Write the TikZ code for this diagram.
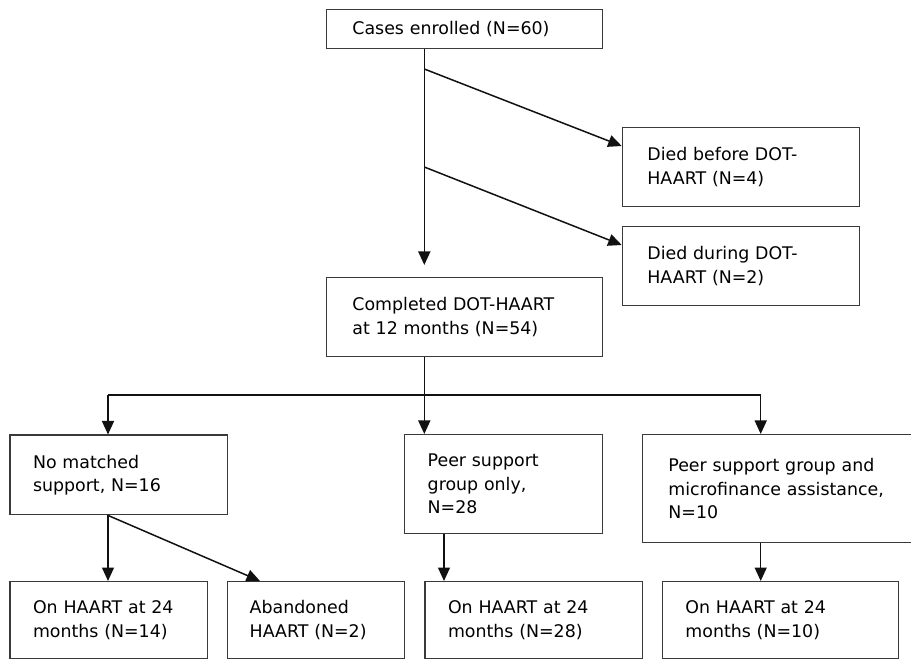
\documentclass[tikz,border=0pt]{standalone}
\usepackage{fontspec}
\setmainfont{DejaVu Sans}
\usetikzlibrary{arrows.meta}
\definecolor{boxgray}{HTML}{3A3A3A}
\definecolor{linecol}{HTML}{111111}
\begin{document}
\begin{tikzpicture}[x=1pt,y=-1pt,
  bx/.style={draw=boxgray, line width=1.4pt, rectangle, anchor=north west,
    inner xsep=23pt, inner ysep=0pt, align=left, text=black,
    font=\fontsize{17.4}{23.5}\selectfont},
  arr/.style={draw=linecol, line width=1.5pt, -{Triangle[length=13.5pt,width=12pt]}},
  ln/.style={draw=linecol, line width=1.5pt}]
\useasboundingbox (0,0) rectangle (911,660);
\clip (0,0) rectangle (911,660);
% boxes
\node[bx, inner xsep=26pt, text width=224.3pt, minimum height=39pt] (top) at (325.7,9) {Cases enrolled (N=60)};
\node[bx, inner xsep=25pt, text width=187.3pt, minimum height=79pt] (d1) at (621.7,127) {Died before DOT-\\HAART (N=4)};
\node[bx, inner xsep=25pt, text width=187.3pt, minimum height=79pt] (d2) at (621.7,226) {Died during DOT-\\HAART (N=2)};
\node[bx, inner xsep=26pt, text width=224.3pt, minimum height=79pt] (comp) at (325.7,277) {Completed DOT-HAART\\at 12 months (N=54)};
\node[bx, text width=171.7pt, minimum height=79.5pt] (nm) at (9.3,434.5) {No matched\\support, N=16};
\node[bx, text width=152pt, minimum height=99pt] (peer) at (404,434) {Peer support\\group only,\\N=28};
\node[bx, inner xsep=26pt, text width=248pt, minimum height=108pt] (micro) at (641.7,434) {Peer support group and\\microfinance assistance,\\N=10};
\node[bx, text width=151.7pt, minimum height=77pt] (b1) at (9.3,581) {On HAART at 24\\months (N=14)};
\node[bx, inner xsep=22pt, text width=133pt, minimum height=77pt] (b2) at (227,581) {Abandoned\\HAART (N=2)};
\node[bx, text width=171.4pt, minimum height=77pt] (b3) at (424.3,581) {On HAART at 24\\months (N=28)};
\node[bx, text width=190.3pt, minimum height=77pt] (b4) at (661.7,581) {On HAART at 24\\months (N=10)};
% helper coordinates
\coordinate (vx) at (424.3,0);
\coordinate (t1) at (424.3,265);
\coordinate (s1) at (424.3,69);
\coordinate (e1) at (0,146);
\coordinate (s2) at (424.3,167);
\coordinate (e2) at (0,245);
\coordinate (hb) at (424.3,395);
\coordinate (hl) at (108,395);
\coordinate (hr) at (760.7,395);
\coordinate (ab) at (260,0);
\coordinate (px) at (444,0);
% connectors
\draw[arr] (top.south -| vx) -- (t1);
\draw[arr] (s1) -- (d1.west |- e1);
\draw[arr] (s2) -- (d2.west |- e2);
\draw[ln] (comp.south -| vx) -- (hb);
\draw[ln] (hl) -- (hr);
\draw[arr] (hl) -- (nm.north -| hl);
\draw[arr] (hb) -- (peer.north -| hb);
\draw[arr] (hr) -- (micro.north -| hr);
\draw[arr] (nm.south -| hl) -- (b1.north -| hl);
\draw[arr] (nm.south -| hl) -- (b2.north -| ab);
\draw[arr] (peer.south -| px) -- (b3.north -| px);
\draw[arr] (micro.south -| hr) -- (b4.north -| hr);
\end{tikzpicture}
\end{document}
